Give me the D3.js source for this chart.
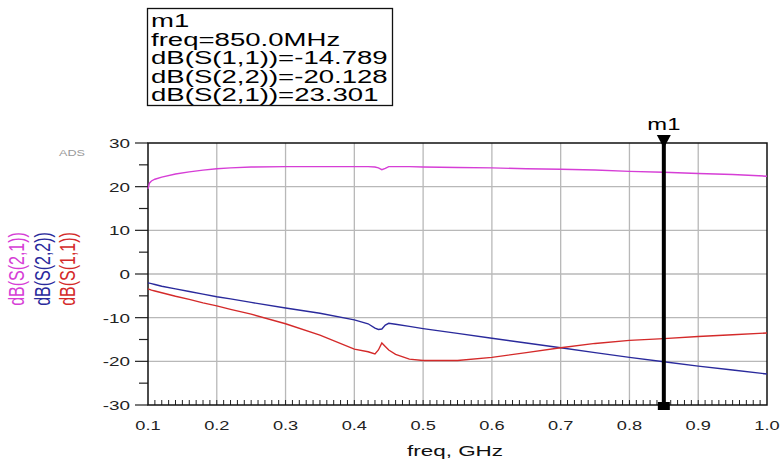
<!DOCTYPE html>
<html>
<head>
<meta charset="utf-8">
<script src="https://cdn.jsdelivr.net/npm/d3@7"></script>
<style>
  body { margin: 0; background: #fff; }
  text { font-family: Arial, "Liberation Sans", sans-serif; }
</style>
</head>
<body>
<svg id="chart" width="780" height="463"></svg>
<script>
// frequency samples (GHz)
var freq = [0.1, 0.102, 0.105, 0.11, 0.12, 0.14, 0.16, 0.18, 0.2, 0.22,
            0.25, 0.3, 0.35, 0.4, 0.42, 0.43, 0.435, 0.44, 0.445, 0.45,
            0.46, 0.48, 0.5, 0.55, 0.6, 0.65, 0.7, 0.75, 0.8, 0.85,
            0.9, 0.95, 1.0];
var s21 = [19.5, 20.8, 21.3, 21.7, 22.2, 22.9, 23.4, 23.8, 24.1, 24.3,
           24.5, 24.6, 24.6, 24.6, 24.6, 24.5, 24.3, 23.9, 24.2, 24.6,
           24.6, 24.6, 24.5, 24.4, 24.3, 24.1, 24.0, 23.8, 23.5, 23.3,
           23.0, 22.8, 22.4];
var s22 = [-2.0, -2.1, -2.2, -2.4, -2.8, -3.4, -4.0, -4.6, -5.2, -5.7,
           -6.5, -7.8, -9.0, -10.5, -11.4, -12.4, -12.7, -12.6, -11.7, -11.3,
           -11.5, -12.0, -12.5, -13.6, -14.7, -15.8, -16.9, -18.0, -19.1, -20.1,
           -21.1, -22.0, -22.9];
var s11 = [-3.4, -3.5, -3.7, -3.9, -4.3, -5.1, -5.8, -6.6, -7.3, -8.1,
           -9.2, -11.4, -14.0, -17.2, -17.8, -18.3, -17.4, -15.8, -16.6, -17.4,
           -18.4, -19.5, -19.8, -19.8, -19.1, -18.0, -16.9, -15.9, -15.2, -14.8,
           -14.3, -13.9, -13.5];

var xTicks = [0.1, 0.2, 0.3, 0.4, 0.5, 0.6, 0.7, 0.8, 0.9, 1.0];
var yTicks = [-30, -20, -10, 0, 10, 20, 30];

var markerFreq = 0.85;
var markerLines = ['m1', 'freq=850.0MHz', 'dB(S(1,1))=-14.789',
                   'dB(S(2,2))=-20.128', 'dB(S(2,1))=23.301'];

var seriesNames = ['dB(S(2,1))', 'dB(S(2,2))', 'dB(S(1,1))'];
var seriesColors = ['#d63ed6', '#2a2a9c', '#d42a2a'];
var seriesData = [s21, s22, s11];

var svg = d3.select('#chart');

var x = d3.scaleLinear().domain([0.1, 1.0]).range([148, 767]);
var y = d3.scaleLinear().domain([-30, 30]).range([405, 143]);

// text looks stretched sideways in the original, so stretch with scale
function label(px, py, txt, size, sx, anchor, fill) {
  return svg.append('text')
    .attr('transform', 'translate(' + px + ',' + py + ') scale(' + sx + ',1)')
    .attr('font-size', size)
    .attr('text-anchor', anchor || 'start')
    .attr('fill', fill || '#000')
    .text(txt);
}

// grid
svg.append('g')
  .selectAll('line')
  .data(xTicks.slice(1, -1))
  .enter()
  .append('line')
  .attr('x1', function(d) { return x(d); })
  .attr('x2', function(d) { return x(d); })
  .attr('y1', y(30))
  .attr('y2', y(-30))
  .attr('stroke', '#b8b8b8')
  .attr('stroke-width', 1.3);

svg.append('g')
  .selectAll('line')
  .data(yTicks.slice(1, -1))
  .enter()
  .append('line')
  .attr('x1', x(0.1))
  .attr('x2', x(1.0))
  .attr('y1', function(d) { return y(d); })
  .attr('y2', function(d) { return y(d); })
  .attr('stroke', '#b8b8b8')
  .attr('stroke-width', 1.3);

// x minor ticks (inward)
svg.append('g')
  .selectAll('line')
  .data(d3.range(11, 100).map(function(i) { return i / 100; }))
  .enter()
  .append('line')
  .attr('x1', function(d) { return x(d); })
  .attr('x2', function(d) { return x(d); })
  .attr('y1', y(-30))
  .attr('y2', y(-30) - 5)
  .attr('stroke', '#222')
  .attr('stroke-width', 1);

// y ticks (outward)
svg.append('g')
  .selectAll('line')
  .data(d3.range(-30, 31, 5))
  .enter()
  .append('line')
  .attr('x1', function(d) { return d % 10 === 0 ? x(0.1) - 13 : x(0.1) - 9; })
  .attr('x2', x(0.1))
  .attr('y1', function(d) { return y(d); })
  .attr('y2', function(d) { return y(d); })
  .attr('stroke', '#222')
  .attr('stroke-width', 1.2);

// frame
svg.append('rect')
  .attr('x', x(0.1))
  .attr('y', y(30))
  .attr('width', x(1.0) - x(0.1))
  .attr('height', y(-30) - y(30))
  .attr('fill', 'none')
  .attr('stroke', '#111')
  .attr('stroke-width', 1.5);

// tick labels
yTicks.forEach(function(d) {
  label(130, y(d) + 5, d, 13.5, 1.4, 'end', '#222');
});
xTicks.forEach(function(d) {
  label(x(d), 430, d.toFixed(1), 13.5, 1.35, 'middle', '#222');
});

label(455, 456, 'freq, GHz', 15.5, 1.45, 'middle', '#111');
label(72, 156, 'ADS', 9, 1.4, 'middle', '#999');

// rotated series labels
seriesNames.forEach(function(name, i) {
  svg.append('text')
    .attr('transform', 'translate(' + (24 + i * 25.5) + ',269) rotate(-90) scale(1,1.4)')
    .attr('font-size', 16)
    .attr('text-anchor', 'middle')
    .attr('fill', seriesColors[i])
    .text(name);
});

// curves
var line = d3.line()
  .x(function(d, i) { return x(freq[i]); })
  .y(function(d) { return y(d); });

seriesData.forEach(function(vals, i) {
  svg.append('path')
    .datum(vals)
    .attr('d', line)
    .attr('fill', 'none')
    .attr('stroke', seriesColors[i])
    .attr('stroke-width', 1.4);
});

// marker m1
var mx = x(markerFreq);
svg.append('line')
  .attr('x1', mx).attr('x2', mx)
  .attr('y1', y(30)).attr('y2', y(-30))
  .attr('stroke', '#000')
  .attr('stroke-width', 4);
svg.append('path')
  .attr('d', 'M' + (mx - 7) + ',' + (y(30) - 8) + 'L' + (mx + 7) + ',' + (y(30) - 8) + 'L' + mx + ',' + (y(30) + 5) + 'Z')
  .attr('fill', '#000');
svg.append('rect')
  .attr('x', mx - 6).attr('y', y(-30) - 3)
  .attr('width', 12).attr('height', 8)
  .attr('fill', '#000');
label(mx, 130, 'm1', 17, 1.4, 'middle', '#000');

// marker readout box
svg.append('rect')
  .attr('x', 147.5).attr('y', 8.5)
  .attr('width', 245).attr('height', 97)
  .attr('fill', '#fff')
  .attr('stroke', '#111')
  .attr('stroke-width', 1.3);
markerLines.forEach(function(t, i) {
  label(151, 27 + i * 18.5, t, 18.5, 1.49, 'start', '#000');
});
</script>
</body>
</html>
